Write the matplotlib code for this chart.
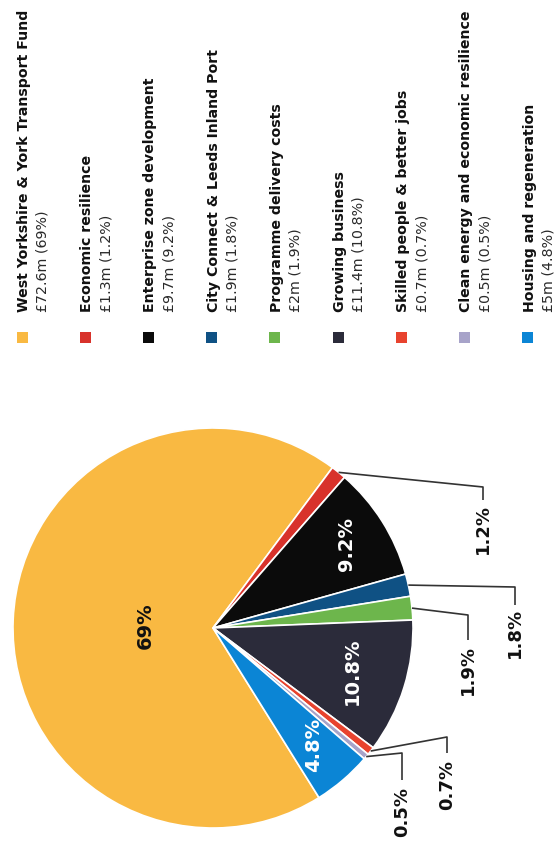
"""
Rotated pie of programme spend (the page is turned a quarter turn, so all
text reads bottom-to-top). Figure coords = pixels, y measured upwards.
"""
import matplotlib
matplotlib.use("Agg")
import matplotlib.pyplot as plt
import numpy as np
from matplotlib.patches import Rectangle

# ---- data ----
names = ["West Yorkshire & York Transport Fund", "Economic resilience",
         "Enterprise zone development", "City Connect & Leeds Inland Port",
         "Programme delivery costs", "Growing business",
         "Skilled people & better jobs", "Clean energy and economic resilience",
         "Housing and regeneration"]
amounts = ["£72.6m (69%)", "£1.3m (1.2%)", "£9.7m (9.2%)", "£1.9m (1.8%)",
           "£2m (1.9%)", "£11.4m (10.8%)", "£0.7m (0.7%)", "£0.5m (0.5%)",
           "£5m (4.8%)"]
values = [72.6, 1.3, 9.7, 1.9, 2.0, 11.4, 0.7, 0.5, 5.0]
pct_labels = ["69%", "1.2%", "9.2%", "1.8%", "1.9%", "10.8%", "0.7%", "0.5%", "4.8%"]
colors = ["#F9B942", "#D8322B", "#0B0B0B", "#0F5184", "#6DB64C",
          "#2B2B3A", "#E8432E", "#A7A3C9", "#0B85D5"]

# ---- layout ----
W, H = 557, 851
CX, CY, R = 213, 223, 200
# inside labels: wedge index -> (fraction of radius, text colour)
INSIDE = {0: (0.34, "#111111"), 2: (0.79, "white"), 5: (0.73, "white"),
          8: (0.77, "white")}
# outside labels: wedge index -> (elbow x, elbow y, line end y, text y)
OUTSIDE = {1: (483, 364, 351, 322), 3: (515, 264, 246, 218),
           4: (468, 236, 211, 181), 6: (447, 114, 98, 66),
           7: (402, 98, 71, 39)}

fig = plt.figure(figsize=(W / 100, H / 100), dpi=100)
ax = fig.add_axes([0, 0, 1, 1])

wedges, _ = ax.pie(values, colors=colors, startangle=302, counterclock=False,
                   center=(CX, CY), radius=R,
                   wedgeprops=dict(edgecolor="white", linewidth=1.2))
ax.set_xlim(0, W)
ax.set_ylim(0, H)
ax.axis("off")

for i, w in enumerate(wedges):
    mid = np.deg2rad((w.theta1 + w.theta2) / 2)
    if i in INSIDE:
        f, c = INSIDE[i]
        ax.text(CX + f * R * np.cos(mid), CY + f * R * np.sin(mid), pct_labels[i],
                rotation=90, ha="center", va="center", color=c,
                fontsize=14, fontweight="bold")
    if i in OUTSIDE:
        ex, ey, ly, ty = OUTSIDE[i]
        sx, sy = CX + R * np.cos(mid), CY + R * np.sin(mid)
        ax.plot([sx, ex, ex], [sy, ey, ly], color="#333333", lw=1.2,
                solid_capstyle="butt")
        ax.text(ex, ty, pct_labels[i], rotation=90, ha="center", va="center",
                color="#111111", fontsize=13, fontweight="bold")

# ---- legend (rotated) ----
for i, (n, a, c) in enumerate(zip(names, amounts, colors)):
    x = 22 + i * 63.2
    ax.add_patch(Rectangle((x - 5.5, 851 - 343), 11, 11, color=c, lw=0))
    ax.text(x + 2, 851 - 312, n, rotation=90, rotation_mode="anchor",
            ha="left", va="center", fontsize=10.2, fontweight="bold",
            color="#111111")
    ax.text(x + 21, 851 - 312, a, rotation=90, rotation_mode="anchor",
            ha="left", va="center", fontsize=10.3, color="#2a2a2a")

fig.savefig("out.png", dpi=100)
